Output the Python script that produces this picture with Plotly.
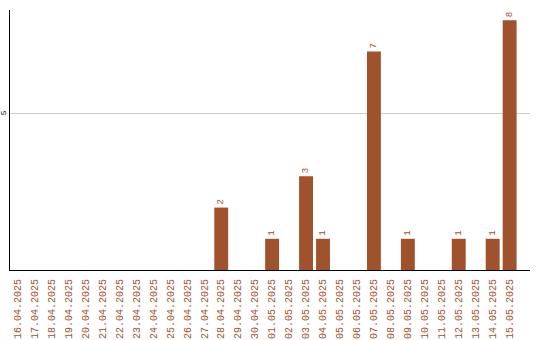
import plotly.graph_objects as go

dates = [
    "16.04.2025", "17.04.2025", "18.04.2025", "19.04.2025", "20.04.2025",
    "21.04.2025", "22.04.2025", "23.04.2025", "24.04.2025", "25.04.2025",
    "26.04.2025", "27.04.2025", "28.04.2025", "29.04.2025", "30.04.2025",
    "01.05.2025", "02.05.2025", "03.05.2025", "04.05.2025", "05.05.2025",
    "06.05.2025", "07.05.2025", "08.05.2025", "09.05.2025", "10.05.2025",
    "11.05.2025", "12.05.2025", "13.05.2025", "14.05.2025", "15.05.2025",
]
counts = [0, 0, 0, 0, 0, 0, 0, 0, 0, 0, 0, 0, 2, 0, 0,
          1, 0, 3, 1, 0, 0, 7, 0, 1, 0, 0, 1, 0, 1, 8]

BAR_COLOR = "#A0522D"
labels = [str(v) if v > 0 else "" for v in counts]

fig = go.Figure(go.Bar(
    x=dates,
    y=counts,
    marker=dict(color=BAR_COLOR, line=dict(width=0)),
    text=labels,
    textposition="outside",
    textangle=-90,
    textfont=dict(family="Liberation Mono", size=9, color=BAR_COLOR),
    cliponaxis=False,
    width=0.82,
))

fig.update_layout(
    width=540, height=340,
    margin=dict(l=10, r=10, t=10, b=70),
    paper_bgcolor="white", plot_bgcolor="white",
    showlegend=False,
    xaxis=dict(
        type="category",
        automargin=False,
        range=[-0.45, 30.2],
        showline=True, linecolor="black", linewidth=1,
        showgrid=False, ticks="", tickangle=-90,
        ticklabelstandoff=4,
        tickfont=dict(family="Liberation Mono", size=10, color=BAR_COLOR),
    ),
    yaxis=dict(
        automargin=False,
        range=[0, 8.33],
        tickvals=[5],
        showline=True, linecolor="black", linewidth=1,
        gridcolor="#cccccc", gridwidth=1,
        zeroline=False, ticks="", tickangle=-90,
        tickfont=dict(family="Liberation Mono", size=8, color="black"),
    ),
)

fig.write_html("out.html")
